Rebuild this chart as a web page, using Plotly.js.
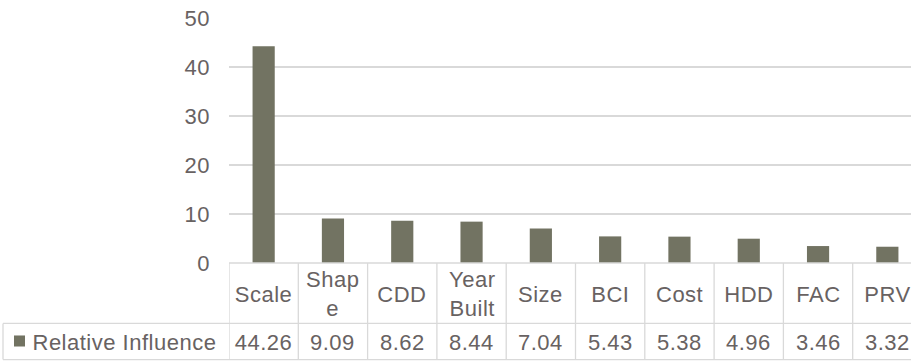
<!DOCTYPE html>
<html>
<head>
<meta charset="utf-8">
<script src="https://cdn.plot.ly/plotly-3.0.1.min.js"></script>
<style>
html, body { margin: 0; padding: 0; overflow: hidden; background: #fff; }
#chart { width: 922px; height: 361px; }
#chart text { letter-spacing: 0.5px; }
</style>
</head>
<body>
<div id="chart"></div>
<script>
// ---- data ----
const categories = ["Scale", "Shape", "CDD", "Year Built", "Size", "BCI", "Cost", "HDD", "FAC", "PRV"];
const headerLabels = ["Scale", "Shap<br>e", "CDD", "Year<br>Built", "Size", "BCI", "Cost", "HDD", "FAC", "PRV"];
const relativeInfluence = [44.26, 9.09, 8.62, 8.44, 7.04, 5.43, 5.38, 4.96, 3.46, 3.32];
const valueLabels = ["44.26", "9.09", "8.62", "8.44", "7.04", "5.43", "5.38", "4.96", "3.46", "3.32"];
const seriesName = "Relative Influence";

// ---- layout in pixels ----
const W = 922, H = 361;
const plotL = 229, plotT = 18.3, plotB = 262.7;
const plotW = W - plotL, plotH = plotB - plotT;
const rowMid = 323, tableBot = 359, tableLeft = 3;
const px2x = p => (p - plotL) / plotW;
const px2y = p => (plotB - p) / plotH;

const barColor = "#727362";
const textColor = "#686262";
const lineColor = "#d9d9d9";
const font = "Liberation Sans, Arial, sans-serif";
const fs = 22;

const shapes = [];
const line = (x0, y0, x1, y1, xref) => shapes.push({
  type: "line", xref: xref || "paper", yref: "paper",
  x0: x0, y0: y0, x1: x1, y1: y1,
  line: { color: lineColor, width: 1.3 }, layer: "above"
});
// horizontal table lines
line(0, 0, 1, 0);
line(px2x(tableLeft), px2y(rowMid), 1, px2y(rowMid));
line(px2x(tableLeft), px2y(tableBot), 1, px2y(tableBot));
// vertical lines at category boundaries
for (let i = 0; i <= categories.length; i++) {
  line(i - 0.5, 0, i - 0.5, px2y(tableBot), "x");
}
line(px2x(tableLeft), px2y(rowMid), px2x(tableLeft), px2y(tableBot));
// legend key
shapes.push({
  type: "rect", xref: "paper", yref: "paper",
  x0: px2x(14), x1: px2x(25), y0: px2y(335), y1: px2y(346),
  fillcolor: barColor, line: { width: 0 }, layer: "above"
});

const annotations = [];
categories.forEach((c, i) => {
  annotations.push({
    x: i, xref: "x", y: px2y((plotB + rowMid) / 2 + 1), yref: "paper",
    text: headerLabels[i], showarrow: false, xanchor: "center", yanchor: "middle",
    font: { family: font, size: fs, color: textColor }
  });
  annotations.push({
    x: i, xref: "x", y: px2y((rowMid + tableBot) / 2 + 1.5), yref: "paper",
    text: valueLabels[i], showarrow: false, xanchor: "center", yanchor: "middle",
    font: { family: font, size: fs, color: textColor }
  });
});
annotations.push({
  x: px2x(35), xref: "paper", y: px2y((rowMid + tableBot) / 2 + 1.5), yref: "paper",
  text: seriesName, showarrow: false, xanchor: "left", yanchor: "middle",
  font: { family: font, size: fs, color: textColor }
});

const data = [{
  type: "bar",
  x: categories,
  y: relativeInfluence,
  name: seriesName,
  marker: { color: barColor },
  hoverinfo: "skip"
}];

const layout = {
  width: W, height: H,
  margin: { l: plotL, r: 0, t: plotT, b: H - plotB, pad: 0 },
  paper_bgcolor: "#fff", plot_bgcolor: "#fff",
  showlegend: false,
  bargap: 0.68,
  font: { family: font, size: fs, color: textColor },
  xaxis: {
    type: "category", range: [-0.5, categories.length - 0.5],
    showticklabels: false, showgrid: false, zeroline: false, showline: false, ticks: ""
  },
  yaxis: {
    range: [0, 50], dtick: 10, tick0: 0,
    showgrid: true, gridcolor: lineColor, gridwidth: 1.3,
    zeroline: false, showline: false, ticks: "",
    ticklabelstandoff: 18,
    tickfont: { family: font, size: fs, color: textColor }
  },
  shapes: shapes,
  annotations: annotations
};

Plotly.newPlot("chart", data, layout, { displayModeBar: false, staticPlot: true });
</script>
</body>
</html>
